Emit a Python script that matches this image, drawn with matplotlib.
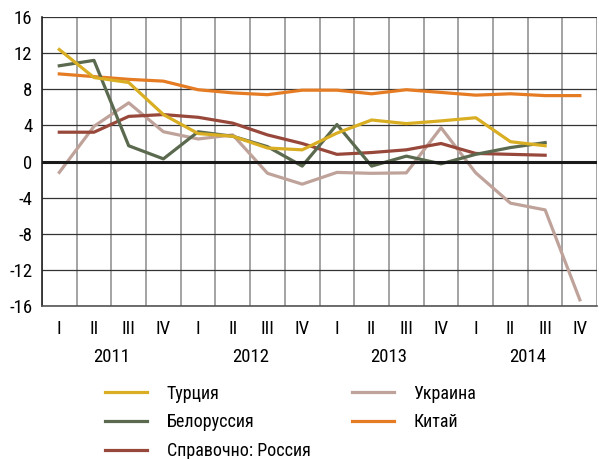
import numpy as np
import matplotlib
matplotlib.use('Agg')
import matplotlib.pyplot as plt
from matplotlib import font_manager

quarters = ['I', 'II', 'III', 'IV'] * 4
years = ['2011', '2012', '2013', '2014']

turkey = [12.4, 9.3, 8.75, 5.2, 3.1, 2.8, 1.5, 1.3, 3.15, 4.6, 4.2, 4.5, 4.85, 2.2, 1.75]
belarus = [10.6, 11.2, 1.75, 0.3, 3.3, 2.8, 1.65, -0.5, 4.1, -0.5, 0.6, -0.25, 0.8, 1.55, 2.1]
russia = [3.25, 3.25, 5.0, 5.2, 4.9, 4.25, 2.95, 2.0, 0.8, 1.0, 1.3, 2.0, 0.9, 0.8, 0.7]
ukraine = [-1.2, 3.9, 6.5, 3.3, 2.5, 2.95, -1.3, -2.5, -1.2, -1.3, -1.25, 3.75, -1.25, -4.6, -5.35, -15.3]
china = [9.7, 9.4, 9.1, 8.9, 7.95, 7.6, 7.4, 7.9, 7.9, 7.5, 7.95, 7.65, 7.35, 7.5, 7.3, 7.3]

names = {f.name for f in font_manager.fontManager.ttflist}
fams = [f for f in ['Liberation Sans Narrow', 'DejaVu Sans Condensed', 'Roboto Condensed'] if f in names]
plt.rcParams['font.family'] = fams + ['DejaVu Sans']
plt.rcParams['axes.unicode_minus'] = False

fig = plt.figure(figsize=(5.99, 4.59), dpi=100)
ax = fig.add_axes([0.070, 0.333, 0.927, 0.630])

lw = 2.3
ax.plot(range(len(ukraine)), ukraine, color='#BFA39B', lw=lw, label='Украина', zorder=3)
ax.plot(range(len(russia)), russia, color='#98483A', lw=lw, label='Справочно: Россия', zorder=4)
ax.plot(range(len(china)), china, color='#E57C23', lw=lw, label='Китай', zorder=4)
ax.plot(range(len(belarus)), belarus, color='#5B6A4F', lw=lw, label='Белоруссия', zorder=5)
ax.plot(range(len(turkey)), turkey, color='#D9AE22', lw=lw, label='Турция', zorder=5)

ax.set_xlim(-0.5, 15.5)
ax.set_ylim(-16, 16)
ax.set_yticks(np.arange(-16, 17, 4))
ax.set_xticks(np.arange(16))
ax.set_xticklabels(quarters)
ax.set_xticks(np.arange(-0.5, 16, 1), minor=True)
ax.tick_params(axis='both', which='both', length=0, labelsize=13.5)
ax.tick_params(axis='x', pad=10)
ax.tick_params(axis='y', pad=7)
ax.grid(axis='x', which='minor', color='#8a8a8a', lw=1.1)
ax.grid(axis='y', which='major', color='#333333', lw=0.9)
ax.set_axisbelow(True)
ax.axhline(0, color='#1a1a1a', lw=2.2, zorder=6)
for s in ['top', 'right']:
    ax.spines[s].set_visible(False)
ax.spines['left'].set_color('#222222')
ax.spines['bottom'].set_color('#555555')
ax.spines['left'].set_linewidth(1.2)
ax.spines['bottom'].set_linewidth(1.2)

for i, y in enumerate(years):
    ax.text(1.5 + 4 * i, -0.175, y, transform=ax.get_xaxis_transform(), ha='center', va='center', fontsize=13.5)

h, l = ax.get_legend_handles_labels()
leg_kw = dict(loc='upper left', frameon=False, fontsize=13, handlelength=2.3, handletextpad=1.1,
              labelspacing=0.6, borderaxespad=0, borderpad=0)
left = ['Турция', 'Белоруссия', 'Справочно: Россия']
right = ['Украина', 'Китай']
fig.legend([h[l.index(o)] for o in left], left, bbox_to_anchor=(0.176, 0.162), **leg_kw)
fig.legend([h[l.index(o)] for o in right], right, bbox_to_anchor=(0.588, 0.162), **leg_kw)

fig.savefig('out.png', dpi=100)
